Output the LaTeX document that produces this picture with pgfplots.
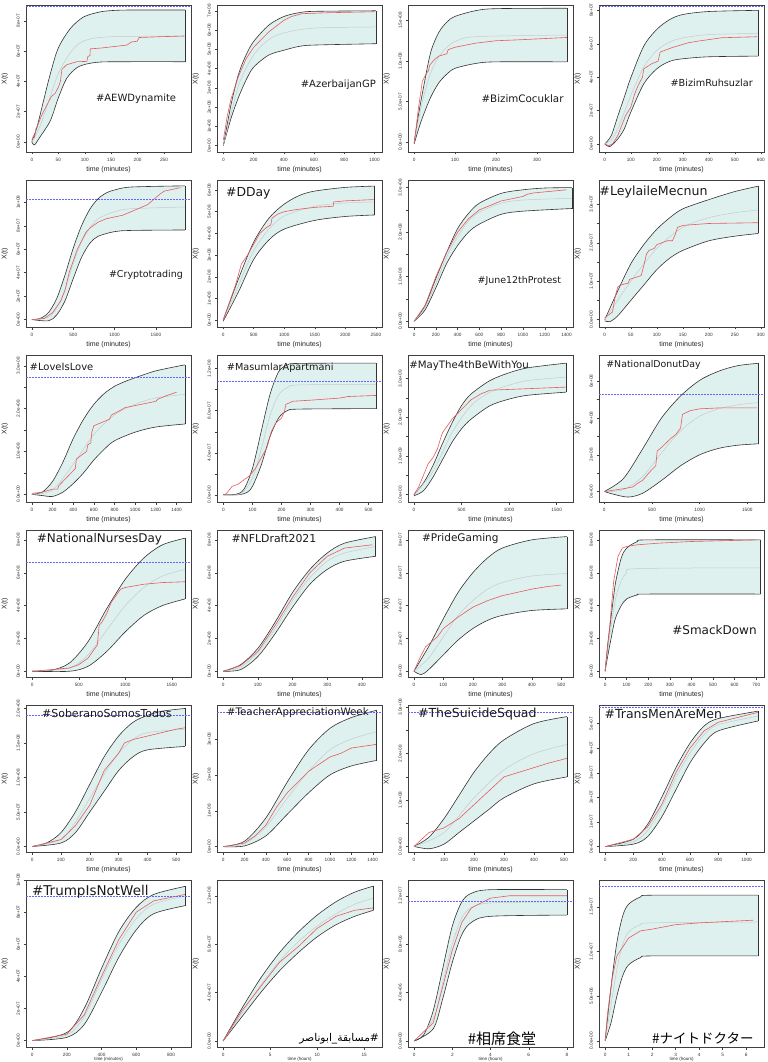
\documentclass[border=0pt]{standalone}
\usepackage{pgfplots}
\pgfplotsset{compat=1.18}
\usepgfplotslibrary{groupplots,fillbetween}
\usepackage{fontspec}
\setmainfont{Liberation Sans}
\newfontfamily\hfont{DejaVu Sans}
\newfontfamily\arabicfont[Script=Arabic]{DejaVu Sans}
\newfontfamily\jpfont{Noto Sans CJK JP}
\TeXXeTstate=1
\definecolor{bandc}{RGB}{223,241,239}
\definecolor{redc}{RGB}{230,90,94}
\definecolor{midc}{RGB}{196,204,204}
\definecolor{bluec}{RGB}{100,100,255}
\pgfplotsset{
  rax/.style={
    scale only axis, width=165pt, height=147pt, set layers,
    axis line style={black!75, line width=0.5pt},
    xtick pos=left, ytick pos=left, tick align=outside,
    major tick length=2.5pt,
    tick style={black!75, line width=0.4pt},
    ticklabel style={font=\fontsize{4.7}{5}\selectfont, text=black!80},
    yticklabel style={rotate=90, anchor=south},
    /pgf/number format/assume math mode=true,
    /pgf/number format/1000 sep={},
    scaled ticks=false,
    xlabel={time (minutes)}, ylabel={X(t)},
    label style={font=\fontsize{7}{8}\selectfont, text=black!85},
    xlabel style={at={(axis description cs:0.5,-0.122)}, anchor=center},
    ylabel style={at={(axis description cs:-0.128,0.5)}, anchor=center},
  },
  hrs/.style={height=167pt, xlabel={time (hours)},
    xlabel style={font=\fontsize{4.5}{5}\selectfont, at={(axis description cs:0.5,-0.075)}}},
  bandl/.style={black!80, line width=0.6pt},
  midl/.style={midc, line width=0.5pt},
  redl/.style={redc, line width=0.6pt},
  bluel/.style={bluec, line width=0.8pt, dash pattern=on 1.8pt off 1.2pt},
}
\newcommand\curves[5]{%
  \addplot[bandl, smooth, name path=U] coordinates {#1};
  \addplot[bandl, smooth, name path=L] coordinates {#2};
  \addplot[fill=bandc, draw=none] fill between[of=U and L];
  \addplot[midl, smooth] coordinates {#3};
  \addplot[redl] coordinates {#4};
  \addplot[bandl] coordinates {#5};
}
\newcommand\bl[3]{\addplot[bluel] coordinates {(#1,#3) (#2,#3)};}
\newcommand\htag[4]{\node[font=\hfont\fontsize{#3}{#3}\selectfont, text=black!90, inner sep=0pt] at (rel axis cs:#1,#2) {#4};}
\begin{document}
\begin{tikzpicture}
\begin{groupplot}[group style={group size=4 by 6, horizontal sep=26pt, vertical sep=28pt}]
% ---------- 1 AEWDynamite
\nextgroupplot[rax, xmin=-11, xmax=301, ymin=-0.67, ymax=9.05, xtick={0,50,...,250}, ytick={0,2,4,6,8}, yticklabels={0e+00,2e+07,4e+07,6e+07,8e+07}]
\curves{(0,0)(10,1.0)(22,2.7)(35,4.5)(50,6.2)(73,7.5)(98,8.26)(130,8.6)(161,8.7)(200,8.72)(290,8.72)}
{(0,0)(5,-0.2)(15,0.3)(35,1.4)(50,2.9)(66,4.2)(85,4.9)(104,5.15)(130,5.28)(180,5.3)(290,5.3)}
{(0,0)(15,1.0)(30,2.5)(50,4.5)(75,6.0)(100,6.7)(150,6.95)(290,7.0)}
{(0,0.1)(3,0.4)(5,0.3)(8,0.9)(10,1.0)(18,1.7)(25,2.2)(37,3.0)(44,3.2)(50,3.6)(54,4.0)(57,4.8)(66,5.1)(85,5.3)(104,5.32)(106,5.65)(110,5.7)(110.5,6.15)(130,6.2)(180,6.4)(188,6.6)(199,6.65)(203,6.9)(240,6.95)(288,7.0)}
{(290,5.3)(290,8.72)}
\bl{-11}{301}{8.93}
\htag{0.667}{0.365}{10}{\#AEWDynamite}
% ---------- 2 AzerbaijanGP
\nextgroupplot[rax, xmin=-42, xmax=1050, ymin=-0.33, ymax=7.3, xtick={0,200,...,1000}, ytick={0,1,...,7}, yticklabels={0e+00,1e+08,2e+08,3e+08,4e+08,5e+08,6e+08,7e+08}]
\curves{(0,0)(50,2.1)(100,3.7)(150,4.7)(200,5.4)(300,6.25)(400,6.7)(500,6.9)(600,6.97)(1010,7.0)}
{(0,0)(50,1.4)(100,2.5)(150,3.4)(200,4.07)(300,4.7)(400,4.95)(500,5.15)(600,5.22)(1010,5.29)}
{(0,0)(100,3.1)(200,4.7)(300,5.5)(400,5.85)(600,6.1)(1010,6.16)}
{(0,0.3)(25,1.5)(50,2.4)(75,3.0)(100,3.6)(150,4.5)(200,5.1)(250,5.5)(300,5.9)(350,6.2)(400,6.5)(450,6.7)(520,6.85)(700,6.9)(1000,6.95)}
{(1010,5.29)(1010,7.0)}
\htag{0.735}{0.456}{10}{\#AzerbaijanGP}
% ---------- 3 BizimCocuklar
\nextgroupplot[rax, xmin=-15, xmax=388, ymin=-0.12, ymax=1.69, xtick={0,100,200,300}, ytick={0,0.5,1,1.5}, yticklabels={0.0e+00,5.0e+07,1.0e+08,1.5e+08}]
\curves{(0,0)(10,0.32)(20,0.6)(40,1.1)(60,1.35)(80,1.48)(100,1.55)(150,1.62)(200,1.645)(373,1.65)}
{(0,-0.02)(10,0.15)(20,0.3)(40,0.55)(60,0.73)(80,0.84)(100,0.91)(150,0.97)(200,0.99)(373,0.99)}
{(0,0)(20,0.5)(40,0.85)(60,1.05)(80,1.17)(100,1.24)(150,1.3)(373,1.32)}
{(0,-0.02)(10,0.4)(20,0.75)(30,0.85)(35,0.88)(38,0.95)(50,1.02)(60,1.06)(80,1.09)(83,1.14)(100,1.17)(150,1.22)(200,1.25)(250,1.26)(373,1.29)}
{(373,0.99)(373,1.65)}
\htag{0.694}{0.36}{10.3}{\#BizimCocuklar}
% ---------- 4 BizimRuhsuzlar
\nextgroupplot[rax, xmin=-22, xmax=612, ymin=-0.48, ymax=8.32, xtick={0,100,...,600}, ytick={0,2,4,6,8}, yticklabels={0e+00,2e+07,4e+07,6e+07,8e+07}]
\curves{(0,0)(25,0.5)(50,1.66)(75,2.8)(100,3.96)(150,5.86)(200,6.86)(250,7.45)(300,7.75)(400,7.93)(590,8.0)}
{(0,0)(20,-0.15)(50,0.3)(75,0.9)(100,1.9)(150,3.6)(200,4.5)(250,4.95)(300,5.1)(400,5.22)(590,5.26)}
{(0,0)(25,0.25)(50,0.9)(100,2.9)(150,4.6)(200,5.6)(250,6.1)(300,6.35)(400,6.55)(590,6.62)}
{(0,0)(15,-0.1)(30,0)(50,0.5)(80,1.7)(100,2.2)(115,3.0)(130,3.56)(145,4.0)(150,4.5)(180,4.8)(205,4.96)(213,5.5)(257,5.76)(321,6.06)(360,6.16)(450,6.36)(585,6.42)}
{(590,5.26)(590,8.0)}
\bl{-22}{612}{8.26}
\htag{0.683}{0.47}{9.7}{\#BizimRuhsuzlar}
% ---------- 5 Cryptotrading
\nextgroupplot[rax, xmin=-72, xmax=1925, ymin=-0.63, ymax=11.9, xtick={0,500,1000,1500}, ytick={0,2,...,10}, yticklabels={0e+00,2e+07,4e+07,6e+07,8e+07,1e+08}]
\curves{(0,0)(100,0.1)(200,0.6)(300,1.8)(400,3.8)(500,6.1)(600,8.0)(700,9.4)(800,10.3)(900,10.8)(1000,11.05)(1200,11.3)(1850,11.4)}
{(0,0)(200,-0.1)(300,0.4)(400,1.6)(500,3.5)(600,5.3)(700,6.5)(800,7.1)(1000,7.5)(1200,7.6)(1850,7.64)}
{(0,0)(200,0.2)(300,1.0)(400,2.6)(500,4.8)(600,6.6)(700,7.8)(800,8.6)(1000,9.2)(1200,9.45)(1850,9.6)}
{(0,0)(150,0.1)(250,0.6)(350,1.6)(400,2.5)(450,4.0)(500,5.0)(550,6.0)(600,6.7)(650,7.4)(700,7.8)(800,8.3)(900,8.6)(1000,8.75)(1100,8.9)(1200,9.2)(1300,9.5)(1400,9.8)(1450,10.1)(1500,10.4)(1550,10.7)(1600,10.95)(1700,11.1)(1800,11.25)}
{(1850,7.64)(1850,11.4)}
\bl{-72}{1925}{10.28}
\htag{0.727}{0.354}{9.5}{\#Cryptotrading}
% ---------- 6 DDay
\nextgroupplot[rax, xmin=-100, xmax=2600, ymin=-0.31, ymax=6.46, xtick={0,500,...,2500}, ytick={0,1,...,6}, yticklabels={0e+00,1e+08,2e+08,3e+08,4e+08,5e+08,6e+08}]
\curves{(0,0)(250,1.9)(500,3.6)(750,4.7)(1000,5.35)(1250,5.75)(1500,5.95)(2000,6.12)(2480,6.18)}
{(0,-0.05)(250,1.3)(500,2.8)(750,3.7)(1000,4.2)(1500,4.6)(2000,4.78)(2480,4.85)}
{(0,0)(250,1.6)(500,3.2)(750,4.2)(1000,4.8)(1500,5.25)(2000,5.4)(2480,5.45)}
{(0,0)(100,0.8)(200,1.6)(300,2.6)(400,3.0)(500,3.5)(600,4.0)(700,4.25)(780,4.4)(800,4.7)(900,4.9)(1000,5.0)(1200,5.1)(1500,5.2)(1800,5.25)(1810,5.45)(2000,5.5)(2480,5.56)}
{(2480,4.85)(2480,6.18)}
\htag{0.19}{0.91}{12.4}{\#DDay}
% ---------- 7 June12thProtest
\nextgroupplot[rax, xmin=-56, xmax=1460, ymin=-0.13, ymax=3.17, xtick={0,200,...,1400}, ytick={0,0.5,...,3}, yticklabels={0.0e+00,,1.0e+08,,2.0e+08,,3.0e+08}]
\curves{(0,0)(100,0.35)(200,0.96)(300,1.55)(400,2.08)(500,2.42)(600,2.65)(800,2.87)(1000,2.95)(1200,2.99)(1450,3.0)}
{(0,0)(100,0.25)(200,0.75)(300,1.3)(400,1.7)(500,2.0)(600,2.18)(800,2.4)(1000,2.47)(1450,2.53)}
{(0,0)(100,0.3)(200,0.85)(300,1.45)(400,1.9)(500,2.25)(600,2.45)(800,2.65)(1000,2.72)(1450,2.76)}
{(0,0)(100,0.35)(200,1.0)(300,1.55)(400,2.0)(500,2.3)(600,2.5)(700,2.6)(800,2.7)(900,2.75)(1000,2.8)(1040,2.85)(1100,2.88)(1400,2.95)}
{(1450,2.53)(1450,3.0)}
\htag{0.675}{0.313}{9.45}{\#June12thProtest}
% ---------- 8 LeylaileMecnun
\nextgroupplot[rax, xmin=-11, xmax=306, ymin=-0.19, ymax=3.63, xtick={0,50,...,300}, ytick={0,0.5,...,3}, yticklabels={0.0e+00,,1.0e+07,,2.0e+07,,3.0e+07}]
\curves{(0,0)(25,0.75)(50,1.45)(75,1.95)(100,2.35)(125,2.65)(150,2.88)(200,3.12)(250,3.33)(295,3.47)}
{(0,-0.03)(10,-0.05)(25,0.1)(50,0.5)(75,0.9)(100,1.3)(125,1.6)(150,1.8)(200,2.05)(250,2.17)(295,2.24)}
{(0,0)(50,1.0)(100,1.85)(150,2.4)(200,2.65)(250,2.78)(295,2.85)}
{(0,0.05)(10,0.15)(15,0.2)(20,0.6)(25,0.85)(30,0.9)(45,0.95)(48,1.05)(60,1.1)(70,1.15)(75,1.4)(80,1.7)(85,1.8)(95,1.85)(100,1.95)(110,2.0)(120,2.05)(130,2.05)(135,2.2)(140,2.4)(150,2.45)(200,2.5)(295,2.52)}
{(295,2.24)(295,3.47)}
\htag{0.33}{0.916}{12.6}{\#LeylaileMecnun}
% ---------- 9 LoveIsLove
\nextgroupplot[rax, xmin=-57, xmax=1540, ymin=-0.18, ymax=3.25, xtick={0,200,...,1400}, ytick={0,0.5,...,3}, yticklabels={0.0e+00,,1.0e+08,,2.0e+08,,3.0e+08}]
\curves{(0,0)(100,0.05)(200,0.3)(300,0.75)(400,1.3)(500,1.75)(600,2.1)(700,2.35)(800,2.52)(900,2.63)(1000,2.72)(1200,2.88)(1480,3.02)}
{(0,0)(100,-0.03)(200,-0.05)(300,0.05)(400,0.25)(500,0.5)(600,0.8)(700,1.05)(800,1.25)(1000,1.45)(1200,1.57)(1480,1.64)}
{(0,0)(200,0.1)(400,0.7)(600,1.4)(800,1.85)(1000,2.1)(1200,2.25)(1480,2.33)}
{(0,0.02)(100,0.05)(200,0.12)(250,0.12)(260,0.2)(300,0.3)(400,0.55)(420,0.6)(430,0.82)(500,0.95)(530,1.0)(540,1.15)(570,1.2)(580,1.45)(600,1.6)(650,1.65)(750,1.75)(770,1.85)(850,1.95)(900,2.02)(1000,2.07)(1100,2.12)(1200,2.17)(1220,2.22)(1300,2.3)(1400,2.38)}
{(1480,1.64)(1480,3.02)}
\bl{-57}{1540}{2.72}
\htag{0.215}{0.92}{10}{\#LoveIsLove}
% ---------- 10 MasumlarApartmani
\nextgroupplot[rax, xmin=-22, xmax=546, ymin=-0.69, ymax=13.3, xtick={0,100,...,500}, ytick={0,2,...,12}, yticklabels={0.0e+00,,4.0e+07,,8.0e+07,,1.2e+08}]
\curves{(0,0)(40,0.02)(70,0.5)(100,2.5)(130,6.0)(160,9.5)(190,11.7)(220,12.35)(260,12.5)(525,12.53)}
{(0,0)(50,0)(80,0.2)(100,0.8)(130,2.8)(160,5.5)(190,7.3)(220,8.0)(260,8.15)(525,8.2)}
{(0,0)(60,0.1)(100,1.6)(130,4.3)(160,7.5)(190,9.5)(220,10.2)(260,10.45)(525,10.5)}
{(0,0)(10,0.1)(30,0.8)(50,1.0)(70,1.4)(90,1.8)(110,2.5)(130,3.5)(150,4.5)(165,6.0)(180,6.8)(200,7.3)(210,7.9)(215,8.6)(240,8.9)(300,9.0)(400,9.2)(430,9.35)(525,9.45)}
{(525,8.2)(525,12.53)}
\bl{-22}{546}{10.8}
\htag{0.383}{0.91}{9.7}{\#MasumlarApartmani}
% ---------- 11 MayThe4thBeWithYou
\nextgroupplot[rax, xmin=-62, xmax=1672, ymin=-0.19, ymax=3.61, xtick={0,500,1000,1500}, ytick={0,0.5,...,3}, yticklabels={0.0e+00,,1.0e+09,,2.0e+09,,3.0e+09}]
\curves{(0,0)(100,0.3)(200,0.75)(300,1.32)(400,1.85)(500,2.3)(600,2.6)(800,2.95)(1000,3.15)(1200,3.28)(1600,3.4)}
{(0,-0.03)(100,0.1)(200,0.45)(300,0.9)(400,1.35)(500,1.7)(600,1.95)(800,2.3)(1000,2.47)(1200,2.57)(1600,2.65)}
{(0,0)(200,0.6)(400,1.6)(600,2.3)(800,2.65)(1000,2.83)(1200,2.95)(1600,3.04)}
{(0,0)(50,0.2)(100,0.5)(150,0.8)(200,0.95)(250,1.2)(280,1.45)(300,1.6)(400,1.95)(500,2.2)(600,2.45)(700,2.6)(800,2.7)(1000,2.72)(1200,2.74)(1600,2.78)}
{(1600,2.65)(1600,3.4)}
\htag{0.37}{0.93}{10.2}{\#MayThe4thBeWithYou}
% ---------- 12 NationalDonutDay
\nextgroupplot[rax, xmin=-55, xmax=1675, ymin=-0.57, ymax=7.43, xtick={0,500,1000,1500}, ytick={0,1,...,6}, yticklabels={0e+00,,2e+08,,4e+08,,6e+08}]
\curves{(0,0)(200,0.7)(400,2.3)(600,4.0)(800,5.2)(1000,6.05)(1200,6.55)(1400,6.85)(1620,6.98)}
{(0,0)(100,-0.15)(250,-0.3)(400,-0.1)(600,0.6)(800,1.4)(1000,2.0)(1200,2.35)(1400,2.52)(1620,2.6)}
{(0,0)(200,0.1)(400,0.8)(600,2.1)(800,3.3)(1000,4.1)(1200,4.5)(1400,4.72)(1620,4.84)}
{(0,0)(200,0.15)(300,0.25)(350,0.45)(400,0.6)(500,1.2)(540,1.4)(555,2.2)(600,2.4)(700,2.9)(750,3.1)(800,3.45)(820,4.2)(900,4.4)(1000,4.5)(1200,4.55)(1600,4.55)}
{(1620,2.6)(1620,6.98)}
\bl{-55}{1675}{5.28}
\htag{0.33}{0.93}{9.4}{\#NationalDonutDay}
% ---------- 13 NationalNursesDay
\nextgroupplot[rax, xmin=-66, xmax=1706, ymin=-0.35, ymax=8.6, xtick={0,500,1000,1500}, ytick={0,2,4,6,8}, yticklabels={0e+00,2e+08,4e+08,6e+08,8e+08}]
\curves{(0,0)(200,0.05)(400,0.5)(600,1.8)(800,3.8)(1000,5.6)(1200,6.9)(1400,7.7)(1640,8.1)}
{(0,0)(400,0)(600,0.3)(800,1.2)(1000,2.4)(1200,3.4)(1400,4.0)(1640,4.4)}
{(0,0)(400,0.2)(600,1.0)(800,2.5)(1000,4.0)(1200,5.1)(1400,5.8)(1640,6.2)}
{(0,0)(400,0.2)(500,0.4)(600,0.8)(650,1.2)(700,1.6)(720,2.8)(750,3.0)(800,3.5)(850,4.2)(900,4.6)(950,5.0)(1000,5.1)(1100,5.2)(1200,5.3)(1400,5.4)(1640,5.45)}
{(1640,4.4)(1640,8.1)}
\bl{-66}{1706}{6.6}
\htag{0.445}{0.94}{12}{\#NationalNursesDay}
% ---------- 14 NFLDraft2021
\nextgroupplot[rax, xmin=-18, xmax=458, ymin=-0.35, ymax=8.6, xtick={0,100,...,400}, ytick={0,2,4,6,8}, yticklabels={0e+00,2e+08,4e+08,6e+08,8e+08}]
\curves{(0,0)(50,0.4)(100,1.4)(150,3.0)(200,4.8)(250,6.2)(300,7.2)(350,7.8)(440,8.2)}
{(0,0)(50,0.1)(100,0.9)(150,2.3)(200,3.9)(250,5.3)(300,6.2)(350,6.7)(440,7.0)}
{(0,0)(50,0.25)(100,1.15)(150,2.6)(200,4.3)(250,5.7)(300,6.7)(350,7.2)(440,7.6)}
{(0,0)(50,0.35)(100,1.2)(150,2.8)(200,4.5)(250,6.0)(300,7.0)(350,7.5)(430,7.7)}
{(440,7.0)(440,8.2)}
\htag{0.345}{0.94}{10.9}{\#NFLDraft2021}
% ---------- 15 PrideGaming
\nextgroupplot[rax, xmin=-20, xmax=540, ymin=-0.35, ymax=8.6, xtick={0,100,...,500}, ytick={0,2,4,6,8}, yticklabels={0e+00,2e+07,4e+07,6e+07,8e+07}]
\curves{(0,0)(50,1.5)(100,3.2)(150,4.8)(200,6.0)(250,6.9)(300,7.5)(400,8.0)(520,8.2)}
{(0,0)(25,-0.2)(50,0.1)(100,1.0)(150,1.9)(200,2.6)(250,3.1)(300,3.4)(400,3.7)(520,3.8)}
{(0,0)(50,0.8)(100,2.1)(150,3.4)(200,4.3)(250,5.0)(300,5.4)(400,5.8)(520,5.95)}
{(0,0)(20,0.8)(40,1.5)(60,1.8)(80,2.1)(100,2.6)(150,3.3)(200,3.9)(250,4.3)(300,4.6)(350,4.8)(400,5.0)(450,5.15)(500,5.25)}
{(520,3.8)(520,8.2)}
\htag{0.317}{0.94}{10.5}{\#PrideGaming}
% ---------- 16 SmackDown
\nextgroupplot[rax, xmin=-28, xmax=736, ymin=-0.35, ymax=8.6, xtick={0,100,...,700}, ytick={0,2,4,6,8}, yticklabels={0e+00,2e+08,4e+08,6e+08,8e+08}]
\curves{(0,0)(12,1.6)(25,3.0)(40,4.6)(50,5.5)(75,6.9)(100,7.5)(150,7.9)(200,8.0)(720,8.0)}
{(0,0)(12,0.9)(25,1.8)(40,2.8)(50,3.3)(75,4.0)(100,4.4)(150,4.65)(200,4.7)(720,4.7)}
{(0,0)(12,1.3)(25,2.5)(50,4.5)(75,5.5)(100,6.0)(150,6.25)(720,6.3)}
{(0,0)(20,2.5)(40,5.5)(60,7.0)(80,7.5)(100,7.6)(150,7.7)(250,7.8)(400,7.9)(700,8.0)}
{(720,4.7)(720,8.0)}
\htag{0.70}{0.32}{12}{\#SmackDown}
% ---------- 17 SoberanoSomosTodos
\nextgroupplot[rax, xmin=-21, xmax=551, ymin=-0.08, ymax=2.05, xtick={0,100,...,500}, ytick={0,0.5,...,2}, yticklabels={0.0e+00,5.0e+07,1.0e+08,1.5e+08,2.0e+08}]
\curves{(0,0)(50,0.05)(100,0.2)(150,0.5)(200,0.9)(250,1.3)(300,1.6)(350,1.8)(400,1.9)(450,1.96)(530,2.0)}
{(0,0)(100,0.05)(150,0.2)(200,0.5)(250,0.8)(300,1.1)(350,1.3)(400,1.4)(530,1.45)}
{(0,0)(100,0.1)(150,0.35)(200,0.7)(250,1.05)(300,1.35)(350,1.55)(400,1.65)(530,1.7)}
{(0,0)(100,0.1)(150,0.3)(200,0.6)(250,1.1)(300,1.35)(320,1.5)(350,1.55)(400,1.6)(450,1.65)(500,1.7)(530,1.72)}
{(530,1.45)(530,2.0)}
\bl{-21}{551}{1.9}
\htag{0.49}{0.945}{11}{\#SoberanoSomosTodos}
% ---------- 18 TeacherAppreciationWeek
\nextgroupplot[rax, xmin=-57, xmax=1487, ymin=-0.15, ymax=3.95, xtick={0,200,...,1400}, ytick={0,1,...,4}, yticklabels={0e+00,1e+08,2e+08,3e+08,4e+08}]
\curves{(0,0)(200,0.15)(400,0.8)(600,1.8)(800,2.7)(1000,3.3)(1200,3.6)(1430,3.8)}
{(0,0)(200,0.02)(400,0.3)(600,0.9)(800,1.5)(1000,2.0)(1200,2.25)(1430,2.4)}
{(0,0)(200,0.08)(400,0.55)(600,1.35)(800,2.1)(1000,2.7)(1200,3.0)(1430,3.2)}
{(0,0)(200,0.1)(300,0.3)(400,0.6)(500,1.1)(600,1.5)(700,1.8)(800,2.1)(900,2.3)(1000,2.5)(1100,2.6)(1200,2.75)(1430,2.85)}
{(1430,2.4)(1430,3.8)}
\bl{-57}{1487}{3.75}
\htag{0.49}{0.945}{10.3}{\#TeacherAppreciationWeek}
% ---------- 19 TheSuicideSquad
\nextgroupplot[rax, xmin=-20, xmax=530, ymin=-0.12, ymax=3.05, xtick={0,100,...,500}, ytick={0,0.5,...,3}, yticklabels={0.0e+00,,1.0e+08,,2.0e+08,,3.0e+08}]
\curves{(0,0)(50,0.2)(100,0.6)(150,1.1)(200,1.6)(250,2.0)(300,2.3)(400,2.65)(510,2.8)}
{(0,0)(50,-0.05)(100,0.05)(150,0.3)(200,0.55)(250,0.8)(300,1.05)(400,1.35)(510,1.5)}
{(0,0)(100,0.3)(200,1.05)(300,1.65)(400,2.0)(510,2.2)}
{(0,0)(50,0.3)(100,0.4)(150,0.6)(200,0.9)(250,1.2)(300,1.5)(350,1.6)(400,1.7)(450,1.8)(510,1.9)}
{(510,1.5)(510,2.8)}
\bl{-20}{530}{2.9}
\htag{0.42}{0.94}{12.5}{\#TheSuicideSquad}
% ---------- 20 TransMenAreMen
\nextgroupplot[rax, xmin=-43, xmax=1123, ymin=-0.22, ymax=5.75, xtick={0,200,...,1000}, ytick={0,1,...,5}, yticklabels={0e+00,1e+07,2e+07,3e+07,4e+07,5e+07}]
\curves{(0,0)(200,0.3)(300,0.9)(400,2.0)(500,3.2)(600,4.2)(700,4.9)(800,5.2)(1080,5.5)}
{(0,0)(200,0.1)(300,0.4)(400,1.2)(500,2.3)(600,3.4)(700,4.2)(800,4.7)(1080,5.1)}
{(0,0)(200,0.2)(300,0.65)(400,1.6)(500,2.8)(600,3.8)(700,4.55)(800,4.95)(1080,5.3)}
{(0,0)(200,0.3)(300,0.8)(400,1.7)(500,3.0)(600,4.0)(700,4.7)(800,5.05)(1080,5.45)}
{(1080,5.1)(1080,5.5)}
\bl{-43}{1123}{5.65}
\htag{0.39}{0.94}{12.5}{\#TransMenAreMen}
% ---------- 21 TrumpIsNotWell
\nextgroupplot[rax, hrs, xlabel={time (minutes)}, xmin=-35, xmax=915, ymin=-0.4, ymax=10.0, xtick={0,200,...,800}, ytick={0,2,...,10}, yticklabels={0e+00,2e+07,4e+07,6e+07,8e+07,1e+08}]
\curves{(0,0)(200,0.5)(300,2.0)(400,4.5)(500,6.8)(600,8.3)(700,9.1)(880,9.6)}
{(0,0)(200,0.2)(300,1.0)(400,3.0)(500,5.2)(600,6.9)(700,7.9)(880,8.4)}
{(0,0)(200,0.35)(300,1.5)(400,3.8)(500,6.0)(600,7.6)(700,8.5)(880,9.0)}
{(0,0)(200,0.4)(300,1.6)(400,4.0)(500,6.3)(600,8.0)(700,8.7)(880,9.1)}
{(880,8.4)(880,9.6)}
\bl{-35}{915}{9.0}
\htag{0.39}{0.93}{13.5}{\#TrumpIsNotWell}
% ---------- 22 Arabic
\nextgroupplot[rax, hrs, xmin=-0.65, xmax=16.9, ymin=-0.5, ymax=13.3, xtick={0,5,10,15}, ytick={0,4,8,12}, yticklabels={0.0e+00,4.0e+07,8.0e+07,1.2e+08}]
\curves{(0,0)(2,2.7)(4,5.2)(6,7.3)(8,9.0)(10,10.4)(12,11.5)(14,12.3)(16,12.8)}
{(0,0)(2,2.0)(4,4.0)(6,5.8)(8,7.3)(10,8.6)(12,9.6)(14,10.3)(16,10.8)}
{(0,0)(2,2.3)(4,4.6)(6,6.6)(8,8.2)(10,9.5)(12,10.5)(14,11.3)(16,11.8)}
{(0,0)(2,2.5)(4,4.5)(6,6.5)(8,7.8)(10,9.3)(12,10.3)(14,10.8)(16,11.0)}
{(16,10.8)(16,12.8)}
\node[font=\arabicfont\fontsize{10.7}{11}\selectfont, inner sep=0pt] at (rel axis cs:0.74,0.05) {\beginR\#مسابقة\_ابوناصر\endR};
% ---------- 23 相席食堂
\nextgroupplot[rax, hrs, xmin=-0.32, xmax=8.32, ymin=-0.5, ymax=13.3, xtick={0,2,...,8}, ytick={0,4,8,12}, yticklabels={0.0e+00,4.0e+06,8.0e+06,1.2e+07}]
\curves{(0,0)(0.5,0.5)(1,2.5)(1.5,6.0)(2,9.5)(2.5,11.5)(3,12.2)(4,12.5)(8,12.5)}
{(0,0)(1,1.0)(1.5,3.5)(2,6.5)(2.5,8.8)(3,9.8)(4,10.3)(8,10.4)}
{(0,0)(1,1.8)(1.5,4.8)(2,8.0)(2.5,10.2)(3,11.0)(4,11.4)(8,11.5)}
{(0,0)(1,1.5)(1.5,4.5)(2,7.5)(2.5,9.8)(3,11.0)(4,11.8)(5,12.0)(8,12.0)}
{(8,10.4)(8,12.5)}
\bl{-0.32}{8.32}{11.5}
\node[font=\jpfont\fontsize{15}{15}\selectfont, inner sep=0pt] at (rel axis cs:0.57,0.05) {\#相席食堂};
% ---------- 24 ナイトドクター
\nextgroupplot[rax, hrs, xmin=-0.26, xmax=6.76, ymin=-0.7, ymax=18, xtick={0,1,...,6}, ytick={0,5,10,15}, yticklabels={0.0e+00,5.0e+06,1.0e+07,1.5e+07}]
\curves{(0,0)(0.25,6)(0.5,11)(0.75,14)(1,15.3)(1.5,16.1)(2,16.3)(6.5,16.3)}
{(0,0)(0.25,2)(0.5,5)(0.75,7.3)(1,8.5)(1.5,9.3)(2,9.5)(6.5,9.5)}
{(0,0)(0.25,4)(0.5,8)(0.75,10.8)(1,12.2)(1.5,13.0)(2,13.2)(6.5,13.3)}
{(0,0)(0.1,3)(0.3,7)(0.5,9.5)(0.75,10.5)(1,11.5)(1.5,12.3)(2,12.5)(3,13.0)(4,13.2)(6.3,13.5)}
{(6.5,9.5)(6.5,16.3)}
\bl{-0.26}{6.76}{17.3}
\node[font=\jpfont\fontsize{13.5}{14}\selectfont, inner sep=0pt] at (rel axis cs:0.63,0.05) {\#ナイトドクター};
\end{groupplot}
\pgfresetboundingbox
\path[use as bounding box] ([xshift=-26pt,yshift=5pt]group c1r1.north west) rectangle ([xshift=3pt,yshift=-15pt]group c4r6.south east);
\end{tikzpicture}
\end{document}
